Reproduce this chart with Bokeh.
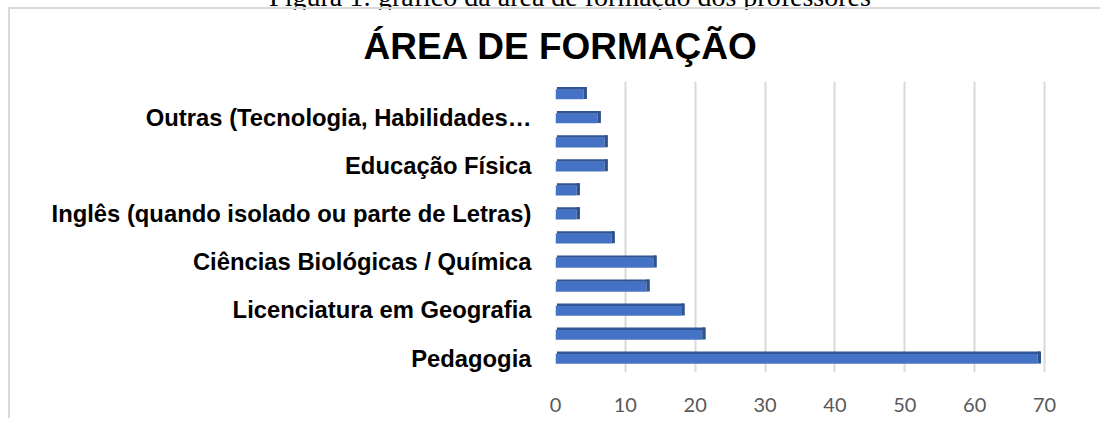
from bokeh.plotting import figure
from bokeh.models import Range1d, FixedTicker, Div
from bokeh.layouts import column
from bokeh.embed import file_html
from bokeh.resources import INLINE

# Data (bottom to top); unlabeled bars have empty label text
labels = ["Pedagogia", "", "Licenciatura em Geografia", "",
          "Ciências Biológicas / Química", "", "Inglês (quando isolado ou parte de Letras)", "",
          "Educação Física", "", "Outras (Tecnologia, Habilidades…", ""]
values = [69, 21, 18, 13, 14, 8, 3, 3, 7, 7, 6, 4]
x_ticks = [0, 10, 20, 30, 40, 50, 60, 70]
title_text = "ÁREA DE FORMAÇÃO"
caption_text = "Figura 1: gráfico da área de formação dos professores"

positions = list(range(len(values)))

p = figure(width=1090, height=409, output_backend="svg", toolbar_location=None,
           x_range=Range1d(0, 71), y_range=Range1d(-0.6, 11.5),
           min_border_left=545, min_border_right=51, min_border_top=72, min_border_bottom=48,
           frame_width=494, frame_height=289)
p.outline_line_color = None
p.background_fill_color = "white"
p.border_fill_color = "white"
p.styles = {"margin-left": "8px", "border-left": "2px solid #d9d9d9",
            "border-top": "2px solid #d9d9d9"}

# Title
p.title.text = title_text
p.title.align = "left"
p.title.offset = -192
p.title.standoff = 29
p.title.text_font = "Liberation Sans"
p.title.text_font_style = "bold"
p.title.text_font_size = "37px"
p.title.text_color = "black"

# 3D-like bars
p.hbar(y=[v - 0.03 for v in positions], height=0.42, left=0, right=values,
       fill_color="#4472C4", line_color=None)
p.hbar(y=[v + 0.22 for v in positions], height=0.1, left=0.2, right=[v + 0.4 for v in values],
       fill_color="#2F5597", line_color=None)
p.hbar(y=[v + 0.02 for v in positions], height=0.5, left=values, right=[v + 0.5 for v in values],
       fill_color="#2F528F", line_color=None)

# Axes
p.xaxis.ticker = FixedTicker(ticks=x_ticks)
p.xaxis.axis_line_color = None
p.xaxis.major_tick_line_color = None
p.xaxis.minor_tick_line_color = None
p.xaxis.major_label_text_font = "Lato"
p.xaxis.major_label_text_font_size = "20px"
p.xaxis.major_label_text_color = "#595959"
p.xaxis.major_label_standoff = 19

p.yaxis.ticker = FixedTicker(ticks=positions)
p.yaxis.major_label_overrides = {i: t for i, t in zip(positions, labels)}
p.yaxis.axis_line_color = None
p.yaxis.major_tick_line_color = None
p.yaxis.minor_tick_line_color = None
p.yaxis.major_label_text_font = "Liberation Sans"
p.yaxis.major_label_text_font_style = "bold"
p.yaxis.major_label_text_font_size = "23.8px"
p.yaxis.major_label_text_color = "black"
p.yaxis.major_label_standoff = 18

p.xgrid.grid_line_color = "#d9d9d9"
p.xgrid.grid_line_width = 2
p.ygrid.grid_line_color = None

caption = Div(text=('<div style="position:relative; top:-23px; left:17px; width:1106px; '
                    'white-space:nowrap; text-align:center; font-family:\'Liberation Serif\'; '
                    'font-size:28px; color:black;">' + caption_text + '</div>'),
              width=1106, height=7, margin=0)

layout = column(caption, p, spacing=0)
open("out.html", "w").write(file_html(layout, INLINE))
